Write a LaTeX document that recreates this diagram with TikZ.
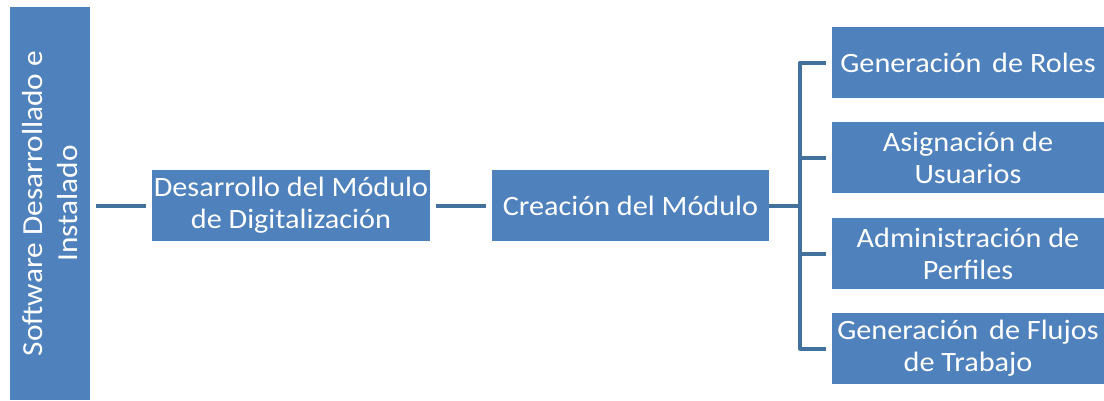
\documentclass[tikz,border=0pt]{standalone}
\usepackage{fontspec}
\setmainfont{Carlito}[FakeStretch=1.08]
\definecolor{boxblue}{HTML}{4F81BD}
\definecolor{linkblue}{HTML}{41719C}
\tikzset{
  box/.style={fill=boxblue,text=white,inner sep=0pt,align=center,
    font=\fontsize{28}{32}\selectfont},
  link/.style={draw=linkblue,line width=4pt,line join=round}
}
\begin{document}
\begin{tikzpicture}[x=1pt,y=-1pt]
\useasboundingbox (0,0) rectangle (1104,400);
\node[box,rotate=90,minimum width=393pt,minimum height=80pt,
  font=\fontsize{29}{35}\selectfont] (root) at (50,203.5)
  {Software Desarrollado e\\Instalado};
\node[box,minimum width=278pt,minimum height=71pt] (dev) at (291,205.5)
  {Desarrollo del Módulo\\de Digitalización};
\node[box,minimum width=277pt,minimum height=71pt] (mod) at (630.5,205.5)
  {Creación del Módulo};
\node[box,minimum width=272pt,minimum height=71pt] (roles) at (968,62.5)
  {Generación\hspace{4pt} de Roles};
\node[box,minimum width=272pt,minimum height=71pt] (users) at (968,157.5)
  {Asignación de\\Usuarios};
\node[box,minimum width=272pt,minimum height=71pt] (prof) at (968,253.5)
  {Administración de\\Perfiles};
\node[box,minimum width=272pt,minimum height=71pt] (flows) at (968,348.5)
  {Generación\hspace{4pt} de Flujos\\de Trabajo};
\coordinate (spine) at (800,205.5);
\draw[link,shorten <=6pt,shorten >=6pt] (dev.west -| root.south) -- (dev.west);
\draw[link,shorten <=6pt,shorten >=6pt] (dev.east) -- (mod.west);
\draw[link] (mod.east) -- (spine);
\draw[link,shorten <=6pt,shorten >=6pt] (roles.west) -- (spine |- roles.west)
  -- (spine |- flows.west) -- (flows.west);
\foreach \n in {users,prof}
  \draw[link,shorten >=6pt] (spine |- \n.west) -- (\n.west);
\end{tikzpicture}
\end{document}
